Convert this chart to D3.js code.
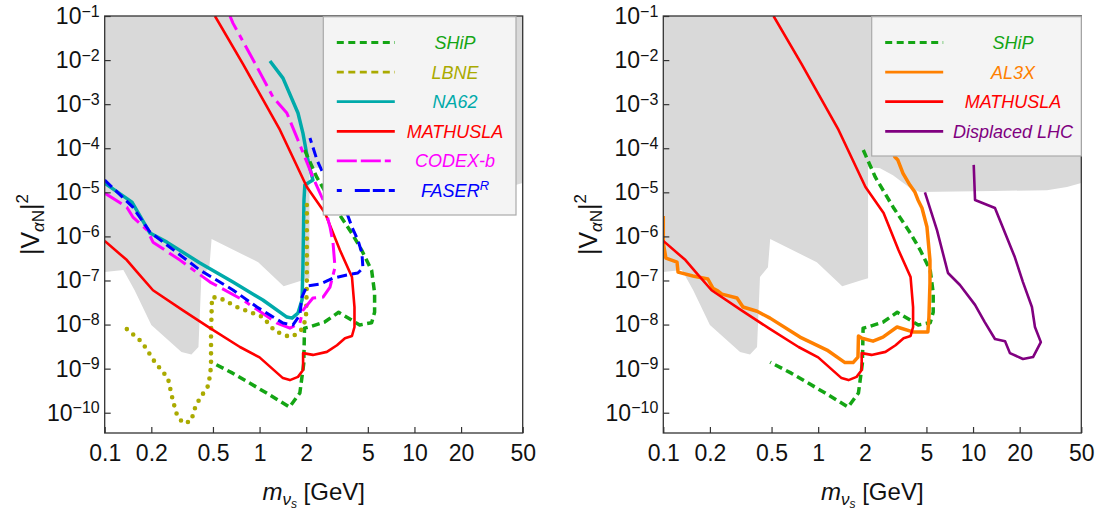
<!DOCTYPE html>
<html>
<head>
<meta charset="utf-8">
<script src="https://cdn.jsdelivr.net/npm/d3@7"></script>
<style>
  body { margin: 0; background: #fff; }
  text { font-family: "Liberation Sans", Arial, Helvetica, sans-serif; }
</style>
</head>
<body>
<svg id="chart"></svg>
<script>
// tick values and labels
var massTicks = [0.1, 0.2, 0.5, 1, 2, 5, 10, 20, 50];
var massTickLabels = ["0.1", "0.2", "0.5", "1", "2", "5", "10", "20", "50"];
var mixExponents = [-1, -2, -3, -4, -5, -6, -7, -8, -9, -10];

// excluded region (grey), [mass GeV, |V|^2]
var excluded = [[0.1, 0.1], [50, 0.1], [50, 1.62e-5], [40.4, 1.32e-5], [30, 1.12e-5], [13.4, 1.07e-5],
  [4.54, 1.02e-5], [3.92, 1.26e-5], [3.04, 2.45e-5], [2.51, 3.5e-5], [2.16, 3.7e-5], [2.1, 3.7e-5],
  [2.1, 1.13e-7], [1.92, 1.02e-7], [1.43, 7.4e-8], [0.98, 2.6e-7], [0.49, 8.7e-7], [0.474, 2.0e-7],
  [0.421, 1.2e-7], [0.403, 3.1e-9], [0.363, 2.1e-9], [0.313, 2.4e-9], [0.2, 9.8e-9], [0.156, 6.0e-8],
  [0.132, 1.74e-7], [0.1, 1.55e-7]];

// sensitivity curves, [mass GeV, |V|^2]
var ship = [[1.955, 9.1e-5], [2.34, 2.2e-5], [3.05, 4.6e-6], [3.93, 1.2e-6], [4.56, 4.9e-7], [5.29, 1.7e-7],
  [5.53, 5.2e-8], [5.53, 1.9e-8], [5.29, 1.1e-8], [4.43, 9.8e-9], [3.93, 1.26e-8], [3.24, 1.9e-8],
  [2.63, 1.14e-8], [2.1, 8.8e-9], [1.95, 8.3e-9], [1.93, 1.34e-9], [1.82, 2.8e-10], [1.56, 1.34e-10],
  [1.11, 2.8e-10], [0.67, 7.9e-10], [0.49, 1.4e-9]];

var lbne = [[0.139, 7.9e-9], [0.174, 4.0e-9], [0.211, 1.4e-9], [0.256, 6.1e-10], [0.276, 1.84e-10],
  [0.293, 8.9e-11], [0.32, 5.8e-11], [0.361, 6.4e-11], [0.388, 1.49e-10], [0.425, 2.5e-10], [0.464, 4.0e-10],
  [0.479, 7.1e-10], [0.486, 1.2e-9], [0.486, 6.4e-9], [0.493, 4.2e-8], [0.555, 4.0e-8], [0.714, 2.5e-8],
  [1.05, 1.48e-8], [1.257, 7.1e-9], [1.57, 5.2e-9], [1.744, 6.1e-9], [1.905, 8.3e-9], [1.994, 1.48e-8],
  [2.02, 8.7e-8], [2.02, 7.8e-6]];

var na62 = [[0.1, 1.62e-5], [0.15, 6.0e-6], [0.196, 1.19e-6], [0.252, 7.4e-7], [0.412, 2.5e-7], [0.673, 9.2e-8],
  [1.05, 3.6e-8], [1.5, 1.48e-8], [1.62, 1.4e-8], [1.77, 1.82e-8], [1.88, 3.6e-8], [1.905, 2.0e-7],
  [1.935, 6.7e-6], [1.96, 1.46e-5], [2.21, 1.9e-5], [2.05, 5.4e-5], [1.905, 2.2e-4], [1.77, 6.3e-4],
  [1.416, 3.9e-3], [1.167, 9.5e-3]];

var mathusla = [[0.515, 0.1], [0.782, 8.1e-3], [1.354, 2.6e-4], [2.02, 1.32e-5], [2.645, 3.4e-6], [3.3, 4.9e-7],
  [3.95, 1.2e-7], [4.1, 2.5e-8], [4.1, 8.8e-9], [3.95, 5.5e-9], [3.56, 4.9e-9], [3.16, 3.4e-9], [2.72, 2.4e-9],
  [2.21, 2.05e-9], [1.91, 2.25e-9], [1.91, 9.3e-10], [1.77, 6.5e-10], [1.57, 5.5e-10], [1.415, 6.1e-10],
  [1.0, 1.8e-9], [0.747, 3.1e-9], [0.479, 8.3e-9], [0.32, 2.1e-8], [0.205, 6.0e-8], [0.162, 1.55e-7],
  [0.139, 2.9e-7], [0.1, 7.9e-7]];

var codexb = [[0.1, 9.6e-6], [0.139, 4.6e-6], [0.152, 2.75e-6], [0.188, 1.39e-6], [0.205, 7.4e-7], [0.306, 2.9e-7],
  [0.479, 9.2e-8], [0.782, 3.6e-8], [1.295, 1.08e-8], [1.57, 8.3e-9], [1.82, 1.08e-8], [1.905, 2.1e-8],
  [2.21, 4.0e-8], [2.57, 4.2e-8], [2.85, 7.1e-8], [3.07, 2.0e-7], [2.98, 7.1e-7], [2.85, 1.63e-6],
  [2.57, 6.7e-6], [2.21, 2.2e-5], [1.77, 1.53e-4], [1.5, 6.3e-4], [1.22, 1.45e-3], [0.962, 7.0e-3],
  [0.673, 6.9e-2], [0.644, 0.1]];

var faser = [[0.1, 1.9e-5], [0.152, 4.6e-6], [0.196, 1.26e-6], [0.252, 6.4e-7], [0.412, 1.72e-7], [0.673, 6.1e-8],
  [0.962, 2.5e-8], [1.416, 1.08e-8], [1.643, 9.8e-9], [1.82, 1.64e-8], [1.878, 4.2e-8], [2.02, 7.5e-8],
  [2.455, 8.3e-8], [2.98, 1.13e-7], [3.66, 1.33e-7], [4.31, 1.48e-7], [4.65, 1.9e-7], [4.58, 4.2e-7],
  [4.31, 8.3e-7], [3.95, 1.63e-6], [3.66, 3.4e-6], [3.07, 9.6e-6], [2.57, 2.7e-5], [2.35, 5.4e-5],
  [2.115, 1.7e-4]];

var al3x = [[0.1, 2.9e-6], [0.1, 7.1e-7], [0.104, 3.2e-7], [0.1226, 2.6e-7], [0.1245, 1.55e-7], [0.1555, 1.26e-7],
  [0.194, 1.08e-7], [0.209, 6.7e-8], [0.2256, 5.75e-8], [0.239, 4.9e-8], [0.299, 4.0e-8], [0.327, 2.5e-8],
  [0.403, 2.0e-8], [0.489, 1.4e-8], [0.763, 5.2e-9], [1.14, 2.64e-9], [1.49, 1.37e-9], [1.68, 1.37e-9],
  [1.807, 1.83e-9], [1.82, 5.5e-9], [1.92, 4.9e-9], [2.26, 4.2e-9], [2.62, 5.2e-9], [3.23, 8.8e-9],
  [4.09, 6.8e-9], [5.11, 6.8e-9], [5.19, 1.48e-8], [5.27, 8.7e-8], [5.27, 2.9e-7], [5.04, 1.63e-6],
  [4.68, 4.4e-6], [4.41, 6.7e-6], [4.22, 1.0e-5], [3.91, 1.46e-5], [3.53, 2.7e-5], [3.27, 5.4e-5],
  [3.13, 6.3e-5], [2.88, 1.55e-4]];

var displacedLhc = [[4.89, 1.0e-5], [5.85, 1.39e-6], [6.89, 1.48e-7], [8.23, 7.9e-8], [10.3, 2.8e-8], [11.9, 1.14e-8],
  [13.85, 4.7e-9], [16.1, 4.2e-9], [17.3, 2.25e-9], [21.0, 1.65e-9], [24.4, 1.83e-9], [27.4, 4.0e-9],
  [25.1, 8.8e-9], [24.0, 2.5e-8], [21.0, 9.2e-8], [18.6, 3.4e-7], [13.85, 4.4e-6], [10.3, 6.7e-6],
  [10.1, 4.2e-5]];

// layout
var width = 1100;
var height = 510;
var plotW = 418;
var plotTop = 16;
var plotBottom = 433;
var mixMin = Math.pow(10, -10.46);

// line styles
var styles = {
  "SHiP":          { color: "#14a514", width: 3.5, dash: "8,4.5", legendDash: "7,4.5" },
  "LBNE":          { color: "#aaaa00", width: 4.6, dash: "0,8.4", cap: "round", legendDash: "7,4.5" },
  "NA62":          { color: "#00aaaa", width: 3.5, dash: null, legendDash: null },
  "MATHUSLA":      { color: "#ff0000", width: 2.6, dash: null, legendDash: null },
  "CODEX-b":       { color: "#ff00ff", width: 3, dash: "20,6,20,6,6,6", legendDash: "20,4,20,4,6,4" },
  "FASER":         { color: "#0000ff", width: 3, dash: "10,5", legendDash: "5,13,15,3,12,4,6" },
  "AL3X":          { color: "#ff8000", width: 3.5, dash: null, legendDash: null },
  "Displaced LHC": { color: "#800080", width: 2.6, dash: null, legendDash: null }
};

var svg = d3.select("#chart").attr("width", width).attr("height", height);

function drawPanel(idx, left, curves, legendNames, legendRight, legendBottom) {

  var x = d3.scaleLog().domain([0.1, 50]).range([left, left + plotW]);
  var y = d3.scaleLog().domain([mixMin, 0.1]).range([plotBottom, plotTop]);

  var line = d3.line()
    .x(function (d) { return x(d[0]); })
    .y(function (d) { return y(d[1]); });

  // clip to the frame
  svg.append("clipPath").attr("id", "clip" + idx)
    .append("rect")
    .attr("x", left).attr("y", plotTop)
    .attr("width", plotW).attr("height", plotBottom - plotTop);

  var g = svg.append("g").attr("clip-path", "url(#clip" + idx + ")");

  // grey region
  g.append("path")
    .attr("d", line(excluded) + "Z")
    .attr("fill", "#d9d9d9")
    .attr("stroke", "none");

  // curves
  curves.forEach(function (c) {
    var s = styles[c.name];
    var p = g.append("path");
    p.attr("d", line(c.data));
    p.attr("fill", "none");
    p.attr("stroke", s.color);
    p.attr("stroke-width", s.width);
    p.attr("stroke-linejoin", "round");
    p.attr("stroke-linecap", s.cap || "butt");
    if (s.dash) p.attr("stroke-dasharray", s.dash);
  });

  // axes
  var xAxis = svg.append("g")
    .attr("transform", "translate(0," + plotBottom + ")")
    .call(d3.axisBottom(x).tickValues(massTicks).tickSize(-6).tickSizeOuter(0).tickPadding(12)
      .tickFormat(function (d, i) { return massTickLabels[i]; }));
  xAxis.attr("font-size", 23).attr("font-family", null);
  xAxis.select(".domain").remove();
  xAxis.selectAll(".tick line").attr("stroke", "#333").attr("stroke-width", 1.2);
  xAxis.selectAll(".tick text").attr("fill", "#111");

  var yAxis = svg.append("g")
    .attr("transform", "translate(" + left + ",0)")
    .call(d3.axisLeft(y).tickValues(mixExponents.map(function (e) { return Math.pow(10, e); }))
      .tickSize(-6).tickSizeOuter(0).tickPadding(5).tickFormat(""));
  yAxis.attr("font-size", 23).attr("font-family", null);
  yAxis.select(".domain").remove();
  yAxis.selectAll(".tick line").attr("stroke", "#333").attr("stroke-width", 1.2);
  yAxis.selectAll(".tick text").attr("fill", "#111").each(function (d, i) {
    var t = d3.select(this);
    t.append("tspan").text("10");
    t.append("tspan").attr("dy", "-0.45em").attr("font-size", "16px").text("\u2212" + Math.abs(mixExponents[i]));
  });

  // frame
  svg.append("rect")
    .attr("x", left).attr("y", plotTop)
    .attr("width", plotW).attr("height", plotBottom - plotTop)
    .attr("fill", "none").attr("stroke", "#333").attr("stroke-width", 1.3);

  // axis titles
  var xt = svg.append("text")
    .attr("x", left + plotW / 2).attr("y", 500)
    .attr("text-anchor", "middle").attr("font-size", 24).attr("fill", "#111");
  xt.append("tspan").attr("font-style", "italic").text("m");
  xt.append("tspan").attr("font-style", "italic").attr("font-size", 17).attr("dy", 5).text("\u03bd");
  xt.append("tspan").attr("font-style", "italic").attr("font-size", 12).attr("dy", 3).text("s");
  xt.append("tspan").attr("dy", -8).text(" [GeV]");

  var yt = svg.append("text")
    .attr("transform", "translate(" + (left - 66) + "," + ((plotTop + plotBottom) / 2) + ") rotate(-90)")
    .attr("text-anchor", "middle").attr("font-size", 25).attr("fill", "#111");
  yt.append("tspan").text("|V");
  yt.append("tspan").attr("font-size", 17).attr("dy", 5).attr("font-style", "italic").text("\u03b1");
  yt.append("tspan").attr("font-size", 17).text("N");
  yt.append("tspan").attr("dy", -5).text("|");
  yt.append("tspan").attr("font-size", 17).attr("dy", -11).text("2");

  // legend
  var lx = legendRight.x0;
  var lw = legendRight.x1 - lx;
  svg.append("rect")
    .attr("x", lx).attr("y", plotTop + 0.7)
    .attr("width", lw).attr("height", legendBottom - plotTop - 0.7)
    .attr("fill", "#f4f4f4").attr("stroke", "#aaa").attr("stroke-width", 1.2);

  legendNames.forEach(function (name, i) {
    var s = styles[name];
    var ry = 42.5 + i * 29.6;
    var l = svg.append("path");
    l.attr("d", d3.line()([[lx + 13.5, ry], [lx + 71.5, ry]]));
    l.attr("stroke", s.color);
    l.attr("stroke-width", 2.8);
    l.attr("fill", "none");
    if (s.legendDash) l.attr("stroke-dasharray", s.legendDash);

    var t = svg.append("text")
      .attr("x", legendRight.tx).attr("y", ry + 6.5)
      .attr("text-anchor", "middle").attr("font-size", 18)
      .attr("font-style", "italic").attr("fill", s.color);
    if (name == "FASER") {
      t.append("tspan").text("FASER");
      t.append("tspan").attr("dy", -7).attr("font-size", 13).text("R");
    } else {
      t.text(name);
    }
  });
}

// left panel
drawPanel(0, 104.7,
  [{ name: "NA62", data: na62 }, { name: "SHiP", data: ship }, { name: "LBNE", data: lbne },
   { name: "MATHUSLA", data: mathusla }, { name: "CODEX-b", data: codexb }, { name: "FASER", data: faser }],
  ["SHiP", "LBNE", "NA62", "MATHUSLA", "CODEX-b", "FASER"],
  { x0: 323.3, x1: 516, tx: 455 }, 215);

// right panel
drawPanel(1, 663.3,
  [{ name: "SHiP", data: ship }, { name: "AL3X", data: al3x }, { name: "MATHUSLA", data: mathusla },
   { name: "Displaced LHC", data: displacedLhc }],
  ["SHiP", "AL3X", "MATHUSLA", "Displaced LHC"],
  { x0: 871.7, x1: 1081.3, tx: 1013 }, 156);
</script>
</body>
</html>
